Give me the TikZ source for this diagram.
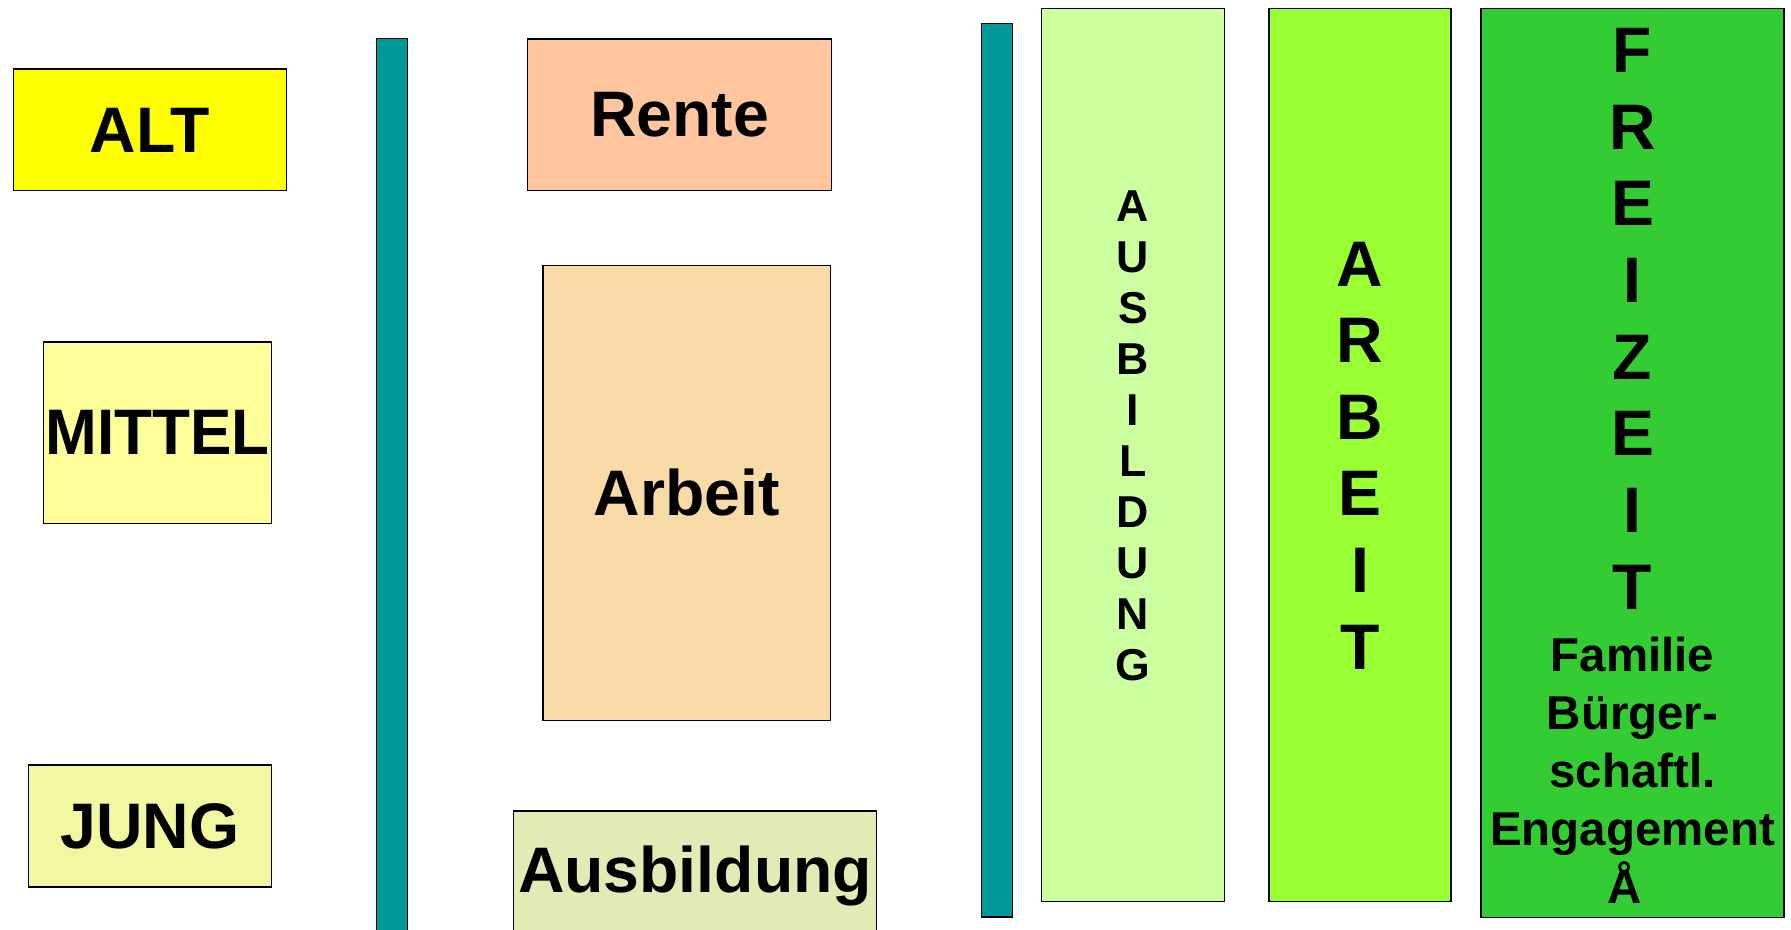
\documentclass[tikz,border=0pt]{standalone}
\usepackage{fontspec}
\setmainfont{Liberation Sans}
\usepackage{graphicx}
\usepackage{tikz}
\definecolor{altyellow}{HTML}{FFFF00}
\definecolor{mittelyellow}{HTML}{FFFF99}
\definecolor{jungyellow}{HTML}{F2F7A2}
\definecolor{rentepeach}{HTML}{FFC59E}
\definecolor{arbeitsand}{HTML}{F8DBA7}
\definecolor{ausbildungolive}{HTML}{E2EBB5}
\definecolor{barteal}{HTML}{009999}
\definecolor{ausbcolgreen}{HTML}{CCFF9F}
\definecolor{arbcolgreen}{HTML}{99FF33}
\definecolor{freicolgreen}{HTML}{33CC33}
\newcommand{\bigtext}{\fontsize{18.3}{21.8}\selectfont\bfseries}
\newcommand{\smalltext}{\fontsize{12.7}{14.5}\selectfont\bfseries}
\newcommand{\midtext}{\fontsize{13.5}{16.5}\selectfont\bfseries}
\tikzset{
  agebox/.style={draw=black,line width=0.35pt,inner sep=0pt,font=\bigtext},
  lifebar/.style={draw=black,line width=0.45pt,fill=barteal,inner sep=0pt,minimum width=0.306cm},
  lifecol/.style={draw=black,line width=0.35pt,inner sep=0pt},
  stack/.style={inner sep=0pt,align=center}
}
\begin{document}
\begin{tikzpicture}[x=0.01cm,y=-0.01cm]
\useasboundingbox (0,0) rectangle (1791,929); % page
\clip (0,0) rectangle (1791,929); % page
\node[agebox,fill=altyellow,minimum width=2.734cm,minimum height=1.217cm] (alt) at (150,129.9) {ALT}; % ALT
\node[agebox,fill=mittelyellow,minimum width=2.284cm,minimum height=1.813cm] (mittel) at (157.5,432.7) {\makebox[2.284cm]{\scalebox{0.965}[1]{MITTEL}}}; % MITTEL
\node[agebox,fill=jungyellow,minimum width=2.428cm,minimum height=1.22cm] (jung) at (150,826) {JUNG}; % JUNG
\node[lifebar,minimum height=9.113cm] (barleft) at (392,494.4) {}; % left bar
\node[agebox,fill=rentepeach,minimum width=3.036cm,minimum height=1.517cm] (rente) at (679.5,114.9) {Rente}; % Rente
\node[agebox,fill=arbeitsand,minimum width=2.877cm,minimum height=4.543cm] (arbeit) at (686.9,492.9) {Arbeit}; % Arbeit
\node[agebox,fill=ausbildungolive,minimum width=3.634cm,minimum height=1.304cm] (ausbildung) at (695,876.2) {Ausbildung}; % Ausbildung
\node[lifebar,minimum height=8.93cm] (barright) at (997,470.2) {}; % right bar
\node[lifecol,fill=ausbcolgreen,minimum width=1.823cm,minimum height=8.92cm] (ausbcol) at (1132.9,455) {}; % AUSBILDUNG column
\node[lifecol,fill=arbcolgreen,minimum width=1.82cm,minimum height=8.92cm] (arbcol) at (1360,455) {}; % ARBEIT column
\node[lifecol,fill=freicolgreen,minimum width=3.03cm,minimum height=9.08cm] (freicol) at (1632.5,463) {}; % FREIZEIT column
\node[stack,font=\smalltext] (ausbtext) at (1133,435.7) {A\\U\\S\\B\\I\\L\\D\\U\\N\\G}; % AUSBILDUNG label
\node[stack,font=\bigtext] (arbtext) at (1360,455.5) {A\\R\\B\\E\\I\\T}; % ARBEIT label
\node[stack,font=\bigtext] (freitext) at (1632.5,318.8) {F\\R\\E\\I\\Z\\E\\I\\T}; % FREIZEIT label
\node[stack,font=\midtext] (familie) at (1632.5,770.2) {Familie\\Bürger-\\schaftl.\\Engagement\\Å\hspace*{0.15cm}}; % Familie label
\end{tikzpicture}
\end{document}
